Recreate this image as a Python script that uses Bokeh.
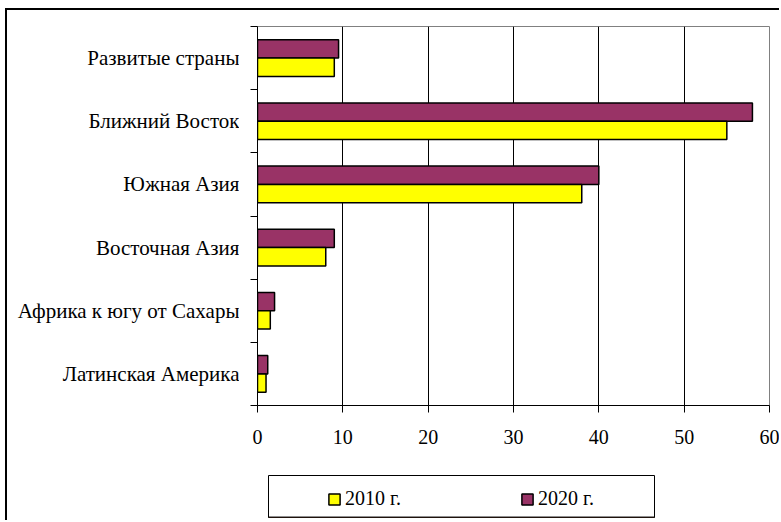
from bokeh.plotting import figure
from bokeh.layouts import column, row
from bokeh.models import FixedTicker, Legend, LegendItem, Range1d
from bokeh.core.properties import value
from bokeh.embed import file_html
from bokeh.resources import INLINE

categories = ["Развитые страны", "Ближний Восток", "Южная Азия",
              "Восточная Азия", "Африка к югу от Сахары", "Латинская Америка"]
values_2010 = [9.0, 55.0, 38.0, 8.0, 1.5, 1.0]
values_2020 = [9.5, 58.0, 40.0, 9.0, 2.0, 1.2]
years = ["2010 г.", "2020 г."]
x_ticks = [0, 10, 20, 30, 40, 50, 60]

n = len(categories)
centers = [2 * (n - 1 - i) + 1 for i in range(n)]
bounds = list(range(0, 2 * n + 1, 2))

FONT = "Liberation Serif"
FS = "20px"
CAT_FS = "21px"
C2010 = "#FFFF00"
C2020 = "#993366"

TOP, BOTTOM, H = 16, 65, 460

# category labels panel
pc = figure(width=232, height=H, x_range=Range1d(0, 1), y_range=Range1d(0, 2 * n),
            output_backend="svg", toolbar_location=None,
            x_axis_location=None, y_axis_location=None,
            min_border_left=0, min_border_right=0, min_border_top=TOP, min_border_bottom=BOTTOM)
pc.grid.visible = False
pc.outline_line_color = None
pc.text(x=[1] * n, y=centers, text=categories, text_align="right", text_baseline="middle",
        text_font=value(FONT), text_font_size=value(CAT_FS), text_color="black")

# main chart
p = figure(width=540, height=H, x_range=Range1d(0, 60), y_range=Range1d(0, 2 * n),
           output_backend="svg", toolbar_location=None,
           min_border_left=18, min_border_right=10, min_border_top=TOP, min_border_bottom=BOTTOM)

bar_h = 0.58
off = 0.29
r2020 = p.hbar(y=[c + off for c in centers], left=0, right=values_2020, height=bar_h,
               fill_color=C2020, line_color="black", line_width=1.5)
r2010 = p.hbar(y=[c - off for c in centers], left=0, right=values_2010, height=bar_h,
               fill_color=C2010, line_color="black", line_width=1.5)

p.xaxis.ticker = FixedTicker(ticks=x_ticks)
p.xaxis.major_tick_out = 7
p.xaxis.major_tick_in = 0
p.xaxis.minor_tick_line_color = None
p.xaxis.axis_line_color = "black"
p.xaxis.major_tick_line_color = "black"
p.xaxis.major_label_text_font = FONT
p.xaxis.major_label_text_font_size = FS
p.xaxis.major_label_text_color = "black"
p.xaxis.major_label_standoff = 17

p.yaxis.ticker = FixedTicker(ticks=centers, minor_ticks=bounds)
p.yaxis.major_label_overrides = {c: "" for c in centers}
p.yaxis.major_label_standoff = 0
p.yaxis.major_label_text_font_size = "1px"
p.yaxis.major_tick_line_color = None
p.yaxis.major_tick_out = 0
p.yaxis.major_tick_in = 0
p.yaxis.minor_tick_out = 7
p.yaxis.minor_tick_in = 0
p.yaxis.minor_tick_line_color = "black"
p.yaxis.axis_line_color = "black"

p.xgrid.grid_line_color = "black"
p.xgrid.grid_line_width = 1
p.ygrid.grid_line_color = None
p.outline_line_color = "#808080"
p.outline_line_width = 1

# legend panel (its frame is the legend box)
pl = figure(width=649, height=50, x_range=Range1d(0, 1), y_range=Range1d(0, 1),
            output_backend="svg", toolbar_location=None,
            x_axis_location=None, y_axis_location=None,
            min_border_left=261, min_border_right=2, min_border_top=5, min_border_bottom=3)
pl.grid.visible = False
pl.outline_line_color = "black"
pl.outline_line_width = 1
# legend swatches only: kept outside the visible range of this panel
g2010 = pl.hbar(y=[-5], left=[0], right=[1], height=1, fill_color=C2010,
                line_color="black", line_width=1.5)
g2020 = pl.hbar(y=[-5], left=[0], right=[1], height=1, fill_color=C2020,
                line_color="black", line_width=1.5)
legend = Legend(items=[LegendItem(label=years[0], renderers=[g2010]),
                       LegendItem(label=years[1], renderers=[g2020])],
                orientation="horizontal", location=(59, 7),
                padding=0, margin=0, spacing=75, glyph_width=14, glyph_height=14,
                label_width=100, label_height=16, label_standoff=4,
                label_text_font=FONT, label_text_font_size=FS, label_text_color="black",
                border_line_alpha=0, background_fill_alpha=0)
pl.add_layout(legend)

layout = column(row(pc, p, spacing=0), pl, spacing=0)
layout.styles = {"margin-left": "5px", "margin-top": "8px",
                 "border-left": "2px solid black", "border-top": "2px solid black"}

open("out.html", "w").write(file_html(layout, INLINE))
